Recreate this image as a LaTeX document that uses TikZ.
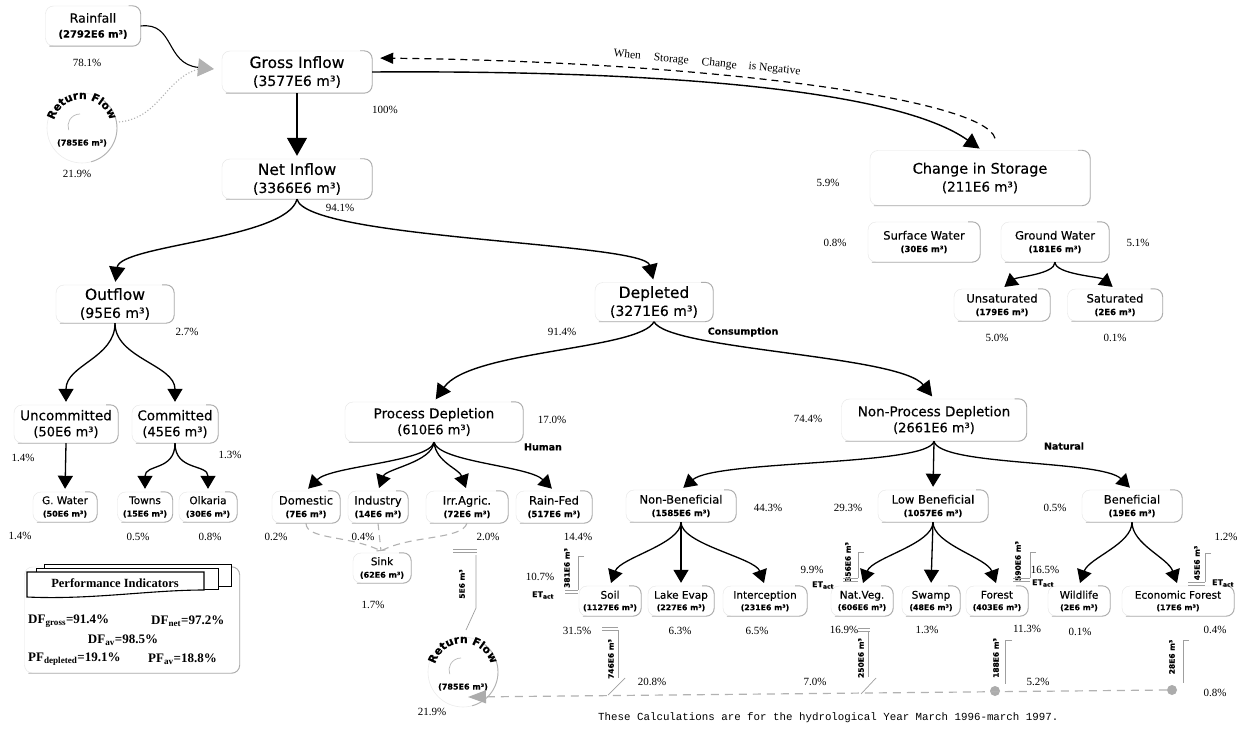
\documentclass[tikz,border=0pt]{standalone}
\usepackage{fontspec}
\setmainfont{Liberation Serif}
\setsansfont{DejaVu Sans}
\setmonofont{Liberation Mono}
\newfontfamily\cfont{DejaVu Sans}[FakeBold=0.3]
\usetikzlibrary{arrows.meta,decorations.text}
\newcommand\myfs[1]{\fontsize{#1}{#1}\selectfont}
\newcommand\rffont{\cfont\bfseries\fontsize{11}{11}\selectfont}
\newcommand\TA[2]{{\myfs{15.5}#1}\\{\myfs{14}#2}}
\newcommand\TS[2]{{\myfs{14.5}#1}\\{\myfs{13.5}#2}}
\newcommand\TB[2]{{\myfs{13.5}#1}\\{\myfs{13}#2}}
\newcommand\TC[2]{{\myfs{11.5}#1}\\{\bfseries\myfs{8.5}#2}}
\newcommand\TCb[2]{{\myfs{10.5}#1}\\{\bfseries\myfs{8}#2}}
\newcommand\TD[2]{{\myfs{10.5}#1}\\{\bfseries\myfs{7.8}#2}}
\tikzset{
  bx/.style={rectangle, rounded corners=8pt, draw=gray!20, fill=white, align=center, inner sep=0pt},
  Lone/.style={bx, font=\cfont\fontsize{10}{18}\selectfont},
  Ltwo/.style={bx, font=\cfont\fontsize{10}{16}\selectfont},
  Lthree/.style={bx, font=\cfont\fontsize{8}{12.5}\selectfont},
  Lfour/.style={bx, font=\cfont\fontsize{8}{11.5}\selectfont},
  pct/.style={font=\rmfamily\fontsize{11}{11}\selectfont, inner sep=0pt},
  tagl/.style={font=\cfont\bfseries\fontsize{9.5}{9.5}\selectfont, inner sep=0pt},
  brl/.style={font=\cfont\bfseries\fontsize{7.5}{7.5}\selectfont, inner sep=0pt, rotate=90},
  brk/.style={gray!75, line width=0.7pt},
  etl/.style={font=\cfont\bfseries\fontsize{8}{8}\selectfont, inner sep=0pt},
  arrA/.style={line width=1.4pt, shorten >=3pt, -{Triangle[length=15pt,width=16pt]}},
  arrB/.style={line width=1.4pt, shorten >=3pt, -{Triangle[length=18pt,width=20pt]}},
  arrC/.style={line width=1.3pt, shorten >=3pt, -{Triangle[length=13pt,width=15pt]}},
  sinkl/.style={gray!60, line width=1.1pt, dash pattern=on 7pt off 5pt},
  retl/.style={gray!60, line width=1.2pt, dash pattern=on 8pt off 6pt},
  gdot/.style={circle, fill=gray!65, inner sep=0pt, minimum size=10pt},
  pind/.style={font=\rmfamily\bfseries\fontsize{13}{13}\selectfont, inner sep=0pt},
  rfv/.style={font=\cfont\bfseries\fontsize{8}{8}\selectfont, inner sep=0pt},
}
\begin{document}
\begin{tikzpicture}[x=1pt,y=-1pt]
\useasboundingbox (0,0) rectangle (1245,733);
\fill[white] (0,0) rectangle (1245,733);

% ---------- boxes ----------
\node[bx, font=\cfont\fontsize{8}{15}\selectfont, minimum width=95pt, minimum height=40pt] (rain) at (93,26)
  {{\myfs{12.5}Rainfall}\\{\bfseries\myfs{10}(2792E6 m³)}};
\node[Lone, minimum width=150pt, minimum height=42pt] (gross) at (297,72) {\TA{Gross Inflow}{(3577E6 m³)}};
\node[Lone, minimum width=150pt, minimum height=40pt] (net) at (297,179) {\TA{Net Inflow}{(3366E6 m³)}};
\node[Lone, minimum width=220pt, minimum height=55pt] (stor) at (980,178) {\TS{Change in Storage}{(211E6 m³)}};
\node[Lthree, minimum width=112pt, minimum height=40pt] (sw) at (924,242) {\TC{Surface Water}{(30E6 m³)}};
\node[Lthree, minimum width=108pt, minimum height=40pt] (gw) at (1055,242) {\TC{Ground Water}{(181E6 m³)}};
\node[Lthree, minimum width=96pt, minimum height=32pt] (unsat) at (1002,305) {\TC{Unsaturated}{(179E6 m³)}};
\node[Lthree, minimum width=95pt, minimum height=32pt] (sat) at (1115,305) {\TC{Saturated}{(2E6 m³)}};
\node[Lone, minimum width=118pt, minimum height=38pt] (out) at (115,304) {\TA{Outflow}{(95E6 m³)}};
\node[Lone, minimum width=118pt, minimum height=39pt] (dep) at (654,302) {\TA{Depleted}{(3271E6 m³)}};
\node[Ltwo, minimum width=104pt, minimum height=38pt] (unc) at (66,424) {\TB{Uncommitted}{(50E6 m³)}};
\node[Ltwo, minimum width=86pt, minimum height=38pt] (com) at (175,424) {\TB{Committed}{(45E6 m³)}};
\node[Ltwo, minimum width=178pt, minimum height=40pt] (pd) at (434,422) {\TB{Process Depletion}{(610E6 m³)}};
\node[Ltwo, minimum width=185pt, minimum height=42pt] (npd) at (934,420) {\TB{Non-Process Depletion}{(2661E6 m³)}};
\node[Lthree, minimum width=64pt, minimum height=30pt] (gwat) at (65,507) {\TCb{G. Water}{(50E6 m³)}};
\node[Lthree, minimum width=55pt, minimum height=30pt] (towns) at (145,507) {\TCb{Towns}{(15E6 m³)}};
\node[Lthree, minimum width=58pt, minimum height=30pt] (olk) at (208,507) {\TCb{Olkaria}{(30E6 m³)}};
\node[Lthree, minimum width=68pt, minimum height=32pt] (dom) at (306,507) {\TC{Domestic}{(7E6 m³)}};
\node[Lthree, minimum width=60pt, minimum height=32pt] (ind) at (378,507) {\TC{Industry}{(14E6 m³)}};
\node[Lthree, minimum width=82pt, minimum height=32pt] (irr) at (467,507) {\TC{Irr.Agric.}{(72E6 m³)}};
\node[Lthree, minimum width=76pt, minimum height=32pt] (rf) at (554,507) {\TC{Rain-Fed}{(517E6 m³)}};
\node[Lthree, minimum width=110pt, minimum height=32pt] (nb) at (681,506) {\TC{Non-Beneficial}{(1585E6 m³)}};
\node[Lthree, minimum width=110pt, minimum height=32pt] (lb) at (933,506) {\TC{Low Beneficial}{(1057E6 m³)}};
\node[Lthree, minimum width=100pt, minimum height=32pt] (ben) at (1132,506) {\TC{Beneficial}{(19E6 m³)}};
\node[Lthree, minimum width=58pt, minimum height=30pt] (sink) at (382,568) {\TCb{Sink}{(62E6 m³)}};
\node[Lfour, minimum width=62pt, minimum height=30pt] (soil) at (610,601) {\TD{Soil}{(1127E6 m³)}};
\node[Lfour, minimum width=66pt, minimum height=30pt] (lake) at (681,601) {\TD{Lake Evap}{(227E6 m³)}};
\node[Lfour, minimum width=84pt, minimum height=30pt] (inter) at (765,601) {\TD{Interception}{(231E6 m³)}};
\node[Lfour, minimum width=62pt, minimum height=30pt] (nat) at (862,601) {\TD{Nat.Veg.}{(606E6 m³)}};
\node[Lfour, minimum width=58pt, minimum height=30pt] (swamp) at (931,601) {\TD{Swamp}{(48E6 m³)}};
\node[Lfour, minimum width=62pt, minimum height=30pt] (forest) at (997,601) {\TD{Forest}{(403E6 m³)}};
\node[Lfour, minimum width=62pt, minimum height=30pt] (wild) at (1079,601) {\TD{Wildlife}{(2E6 m³)}};
\node[Lfour, minimum width=112pt, minimum height=30pt] (econ) at (1178,601) {\TD{Economic Forest}{(17E6 m³)}};
\node[bx, minimum width=215pt, minimum height=106pt] (pibox) at (132,620) {};

\foreach \n in {rain,gross,net,stor,sw,gw,unsat,sat,out,dep,unc,com,pd,npd,gwat,towns,olk,dom,ind,irr,rf,nb,lb,ben,sink,soil,lake,inter,nat,swamp,forest,wild,econ,pibox}
  \draw[gray!65, line width=0.9pt, rounded corners=8pt] ([xshift=-12pt]\n.north east) -- (\n.north east) -- (\n.south east) -- ([xshift=4pt]\n.south west);

% ---------- return flow swirls ----------
\begin{scope}[shift={(82,128)}]
  \draw[gray!15, line width=0.6pt] (0,0) circle[radius=35];
  \draw[gray!60, line width=0.9pt] (0,0) ++(-55:35) arc[start angle=-55, end angle=75, radius=35];
  \path[decorate, decoration={text along path, text={|\rffont|Return Flow}, text align=center}] (0,0) ++(185:29) arc[start angle=185, end angle=355, radius=29];
  \draw[gray!55, line width=0.7pt] (-2,-2) ++(270:12) arc[start angle=270, end angle=160, radius=12];
  \node[rfv] (rfA) at (0,15) {(785E6 m³)};
  \coordinate (rfAr) at (37,-6);
\end{scope}
\begin{scope}[shift={(463,672)}]
  \draw[gray!15, line width=0.6pt] (0,0) circle[radius=35];
  \draw[gray!60, line width=0.9pt] (0,0) ++(-55:35) arc[start angle=-55, end angle=75, radius=35];
  \path[decorate, decoration={text along path, text={|\rffont|Return Flow}, text align=center}] (0,0) ++(185:29) arc[start angle=185, end angle=355, radius=29];
  \draw[gray!55, line width=0.7pt] (-2,-2) ++(270:12) arc[start angle=270, end angle=160, radius=12];
  \node[rfv] (rfB) at (0,15) {(785E6 m³)};
\end{scope}

% ---------- inflow arrows ----------
\coordinate (join) at (214,69);
\draw[line width=1.1pt, -{Triangle[length=16pt,width=18pt,fill=gray!60,color=gray!60]}] (rain.east) .. controls (175,22) and (165,64) .. (join);
\draw[gray!60, line width=1.1pt, dotted] (rfAr) .. controls (160,118) and (165,78) .. ([xshift=-15pt]join);

\draw[arrB] (gross.south) -- (net.north);
\draw[arrA] (net.south) .. controls +(-10,40) and +(5,-40) .. (out.north);
\draw[arrA] (net.south) .. controls +(10,40) and +(-10,-40) .. (dep.north);
\draw[arrA] (gross.east) .. controls (680,70) and (900,92) .. ([xshift=2pt]stor.north);
\draw[line width=1.2pt, dash pattern=on 7pt off 5pt, shorten >=8pt, -{Triangle[length=13pt,width=11pt]}] ([xshift=15pt,yshift=12pt]stor.north) .. controls (985,100) and (720,62) .. ([yshift=14pt]gross.east);
\node[font=\rmfamily\fontsize{11.5}{11.5}\selectfont, rotate=-5.4, inner sep=0pt] (wscn) at (707,63) {When\hspace{13pt}Storage\hspace{13pt}Change\hspace{12pt}is Negative};

% ---------- storage ----------
\draw[arrC] (gw.south) .. controls +(0,12) and +(15,-12) .. (unsat.north);
\draw[arrC] (gw.south) .. controls +(0,12) and +(-15,-12) .. (sat.north);

% ---------- outflow ----------
\draw[arrC] (out.south) .. controls +(0,35) and +(0,-40) .. (unc.north);
\draw[arrC] (out.south) .. controls +(0,35) and +(0,-40) .. (com.north);
\draw[arrC] (unc.south) -- (gwat.north);
\draw[arrC] (com.south) .. controls +(0,28) and +(0,-28) .. (towns.north);
\draw[arrC] (com.south) .. controls +(0,28) and +(0,-28) .. (olk.north);

% ---------- depleted ----------
\draw[arrA] (dep.south) .. controls (640,350) and (470,350) .. (pd.north);
\draw[arrA] (dep.south) .. controls (668,350) and (900,355) .. (npd.north);

\draw[arrC] (pd.south) .. controls +(-5,20) and +(25,-25) .. (dom.north);
\draw[arrC] (pd.south) .. controls +(-2,20) and +(8,-22) .. (ind.north);
\draw[arrC] (pd.south) .. controls +(2,20) and +(-8,-22) .. (irr.north);
\draw[arrC] (pd.south) .. controls +(5,20) and +(-25,-25) .. (rf.north);

\draw[arrC] (npd.south) .. controls +(-5,25) and +(35,-30) .. (nb.north);
\draw[arrC] (npd.south) -- (lb.north);
\draw[arrC] (npd.south) .. controls +(5,25) and +(-30,-30) .. (ben.north);

\draw[arrC] (nb.south) .. controls +(0,22) and +(10,-28) .. (soil.north);
\draw[arrC] (nb.south) -- (lake.north);
\draw[arrC] (nb.south) .. controls +(0,22) and +(-10,-28) .. (inter.north);
\draw[arrC] (lb.south) .. controls +(0,22) and +(10,-28) .. (nat.north);
\draw[arrC] (lb.south) -- (swamp.north);
\draw[arrC] (lb.south) .. controls +(0,22) and +(-10,-28) .. (forest.north);
\draw[arrC] (ben.south) .. controls +(0,22) and +(10,-28) .. (wild.north);
\draw[arrC] (ben.south) .. controls +(0,22) and +(-10,-28) .. (econ.north);

% ---------- sink ----------
\coordinate (sinkT) at (381,551);
\draw[sinkl] (dom.south) .. controls (306,540) and (350,535) .. (sinkT);
\draw[sinkl, -{Bar[width=9pt,line width=1.1pt]}] (ind.south) -- (sinkT);
\draw[sinkl] (irr.south) .. controls (462,540) and (410,535) .. (sinkT);

% ---------- brackets ----------
\node[brl] (l381) at (567,568) {381E6 m³};
\draw[brk] (584,556) -- (578,556) -- (578,590);
\draw[brk] (565,590) -- (578,590) (565,593) -- (578,593);
\node[brl] (l356) at (848,562) {356E6 m³};
\draw[brk] (864,552) -- (858,552) -- (858,578);
\draw[brk] (843,578) -- (858,578) (843,581) -- (858,581);
\node[brl] (l590) at (1018,561) {590E6 m³};
\draw[brk] (1036,552) -- (1030,552) -- (1030,578);
\draw[brk] (1013,578) -- (1030,578) (1013,581) -- (1030,581);
\node[brl] (l45) at (1197,563) {45E6 m³};
\draw[brk] (1211,553) -- (1205,553) -- (1205,582);
\draw[brk] (1188,582) -- (1205,582) (1188,585) -- (1205,585);

\node[brl] (l5) at (462,584) {5E6 m³};
\draw[brk] (453,549) -- (477,549) (453,552) -- (477,552);
\draw[brk] (476,555) -- (476,608) -- (466,630);
\node[brl] (l746) at (611,659) {746E6 m³};
\draw[brk] (602,627) -- (618,627) (602,630) -- (618,630);
\draw[brk] (618,630) -- (618,678);
\draw[brk] (625,678) -- (608,695);
\node[brl] (l250) at (861,658) {250E6 m³};
\draw[brk] (858,628) -- (870,628) (858,631) -- (870,631);
\draw[brk] (868,631) -- (868,677);
\draw[brk] (876,678) -- (861,694);
\node[brl] (l188) at (996,658) {188E6 m³};
\draw[brk] (1012,640) -- (1005,640) -- (1005,684);
\node[brl] (l28) at (1172,657) {28E6 m³};
\draw[brk] (1189,640) -- (1183,640) -- (1183,683);

\node[gdot] (d188) at (995,691) {};
\node[gdot] (d28) at (1172,690) {};
\coordinate (rfBtip) at (468,697);
\draw[retl, -{Triangle[length=18pt,width=13pt,fill=gray!65,color=gray!65]}] (d28.west) -- (rfBtip);

% ---------- ET labels ----------
\node[etl] (et1) at (543,595) {ET\textsubscript{act}};
\node[etl] (et2) at (823,585) {ET\textsubscript{act}};
\node[etl] (et3) at (1043,583) {ET\textsubscript{act}};
\node[etl] (et4) at (1223,583) {ET\textsubscript{act}};

% ---------- tags ----------
\node[tagl] (tcons) at (743,332) {Consumption};
\node[tagl] (thum) at (543,447) {Human};
\node[tagl] (tnat) at (1064,446) {Natural};

% ---------- percentages ----------
\node[pct] (p781) at (87,63) {78.1\%};
\node[pct] (p219a) at (77,174) {21.9\%};
\node[pct] (p100) at (385,110) {100\%};
\node[pct] (p941) at (340,208) {94.1\%};
\node[pct] (p59) at (828,183) {5.9\%};
\node[pct] (p08a) at (835,243) {0.8\%};
\node[pct] (p51) at (1138,243) {5.1\%};
\node[pct] (p50) at (997,338) {5.0\%};
\node[pct] (p01a) at (1115,338) {0.1\%};
\node[pct] (p27) at (187,332) {2.7\%};
\node[pct] (p914) at (562,332) {91.4\%};
\node[pct] (p14a) at (23,458) {1.4\%};
\node[pct] (p13a) at (230,455) {1.3\%};
\node[pct] (p170) at (552,420) {17.0\%};
\node[pct] (p744) at (808,419) {74.4\%};
\node[pct] (p14b) at (20,536) {1.4\%};
\node[pct] (p05a) at (138,537) {0.5\%};
\node[pct] (p08b) at (210,537) {0.8\%};
\node[pct] (p02) at (276,537) {0.2\%};
\node[pct] (p04a) at (363,537) {0.4\%};
\node[pct] (p20) at (488,537) {2.0\%};
\node[pct] (p144) at (578,537) {14.4\%};
\node[pct] (p443) at (768,508) {44.3\%};
\node[pct] (p293) at (848,508) {29.3\%};
\node[pct] (p05b) at (1055,508) {0.5\%};
\node[pct] (p12) at (1226,537) {1.2\%};
\node[pct] (p17) at (373,605) {1.7\%};
\node[pct] (p107) at (540,577) {10.7\%};
\node[pct] (p99) at (812,570) {9.9\%};
\node[pct] (p165) at (1045,570) {16.5\%};
\node[pct] (p315) at (577,631) {31.5\%};
\node[pct] (p63) at (680,631) {6.3\%};
\node[pct] (p65) at (757,631) {6.5\%};
\node[pct] (p169) at (844,630) {16.9\%};
\node[pct] (p13b) at (927,630) {1.3\%};
\node[pct] (p113) at (1027,629) {11.3\%};
\node[pct] (p01b) at (1080,632) {0.1\%};
\node[pct] (p04b) at (1215,630) {0.4\%};
\node[pct] (p208) at (652,682) {20.8\%};
\node[pct] (p70) at (815,682) {7.0\%};
\node[pct] (p52) at (1038,682) {5.2\%};
\node[pct] (p08c) at (1215,693) {0.8\%};
\node[pct] (p219b) at (432,712) {21.9\%};

% ---------- performance indicators ----------
\draw[black, line width=1pt, fill=white] (44,564) rectangle (231,586);
\draw[black, line width=1pt, fill=white] (36,568) rectangle (218,589);
\draw[black, line width=1.1pt, fill=white] (27,572) -- (204,572) -- (204,590) .. controls (150,590) and (90,600) .. (27,597) -- cycle;
\node[pind, font=\rmfamily\bfseries\fontsize{12.5}{12.5}\selectfont] (pihead) at (115,583) {Performance Indicators};
\node[pind, anchor=west] (dfg) at (28,621) {DF\textsubscript{gross}=91.4\%};
\node[pind, anchor=west] (dfn) at (151,621) {DF\textsubscript{net}=97.2\%};
\node[pind] (dfa) at (123,640) {DF\textsubscript{av}=98.5\%};
\node[pind, anchor=west] (pfd) at (28,659) {PF\textsubscript{depleted}=19.1\%};
\node[pind, anchor=west] (pfa) at (148,659) {PF\textsubscript{av}=18.8\%};

% ---------- footer ----------
\node[anchor=west, inner sep=0pt, font=\ttfamily\fontsize{10.8}{10.8}\selectfont] (foot) at (598,718) {These Calculations are for the hydrological Year March 1996-march 1997.};
\end{tikzpicture}
\end{document}
